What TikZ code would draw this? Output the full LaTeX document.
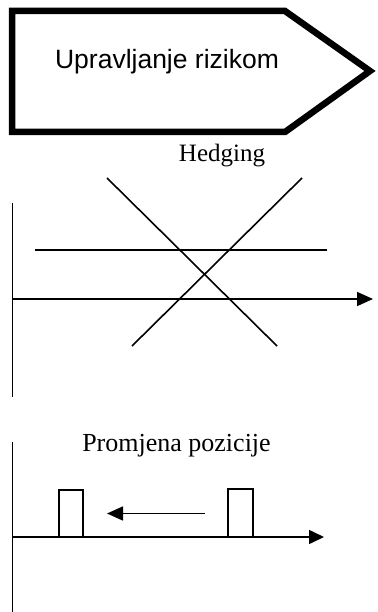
\documentclass[tikz,border=0pt]{standalone}
\usepackage{fontspec}
\setmainfont{Liberation Serif}
\setsansfont{Liberation Sans}
\usetikzlibrary{arrows.meta}
\tikzset{
  ax/.style={line width=1.6pt, draw=black},
  axarrow/.style={ax, -{Triangle[length=16pt,width=14pt]}},
  plotline/.style={line width=1.6pt, draw=black},
  bar/.style={line width=1.6pt, draw=black},
  banner/.style={line width=6.5pt, draw=black, line join=miter},
  sertext/.style={font=\fontsize{25}{28}\selectfont, anchor=base, inner sep=0pt},
  santext/.style={font=\sffamily\fontsize{26.5}{30}\selectfont, anchor=base, inner sep=0pt}
}
\begin{document}
\begin{tikzpicture}[x=1pt,y=-1pt]
\useasboundingbox (0,0) rectangle (377,612);
% banner
\draw[banner] (12,11) -- (285,11) -- (370,71) -- (285,132) -- (12,132) -- cycle;
\node[santext] (title) at (167,69) {Upravljanje rizikom};
% Hedging
\node[sertext] (hedging) at (222,162) {Hedging};
\coordinate (v1top) at (12.5,203);
\coordinate (v1bot) at (12.5,397);
\coordinate (h1start) at (12.5,299);
\coordinate (h1end) at (373,299);
\draw[ax] (v1top) -- (v1bot);
\draw[axarrow] (h1start) -- (h1end);
\coordinate (hlA) at (35,250);
\coordinate (hlB) at (327,250);
\draw[plotline] (hlA) -- (hlB);
\coordinate (d1A) at (107,178);
\coordinate (d1B) at (277,346);
\draw[plotline] (d1A) -- (d1B);
\coordinate (d2A) at (302,178);
\coordinate (d2B) at (132,346);
\draw[plotline] (d2A) -- (d2B);
% Promjena pozicije
\node[sertext, font=\fontsize{26}{29}\selectfont] (prom) at (176.5,451) {Promjena pozicije};
\coordinate (v2top) at (12.5,442);
\coordinate (v2bot) at (12.5,612);
\coordinate (h2start) at (12.5,537);
\coordinate (h2end) at (324,537);
\draw[ax] (v2top) -- (v2bot);
\draw[axarrow, -{Triangle[length=15pt,width=14pt]}] (h2start) -- (h2end);
\draw[bar] (59,537) -- (59,490) -- (83,490) -- (83,537);
\draw[bar] (228,537) -- (228,489) -- (253,489) -- (253,537);
\coordinate (mvA) at (205,513.5);
\coordinate (mvB) at (107,513.5);
\draw[axarrow, -{Triangle[length=16pt,width=14pt]}] (mvA) -- (mvB);
\end{tikzpicture}
\end{document}
